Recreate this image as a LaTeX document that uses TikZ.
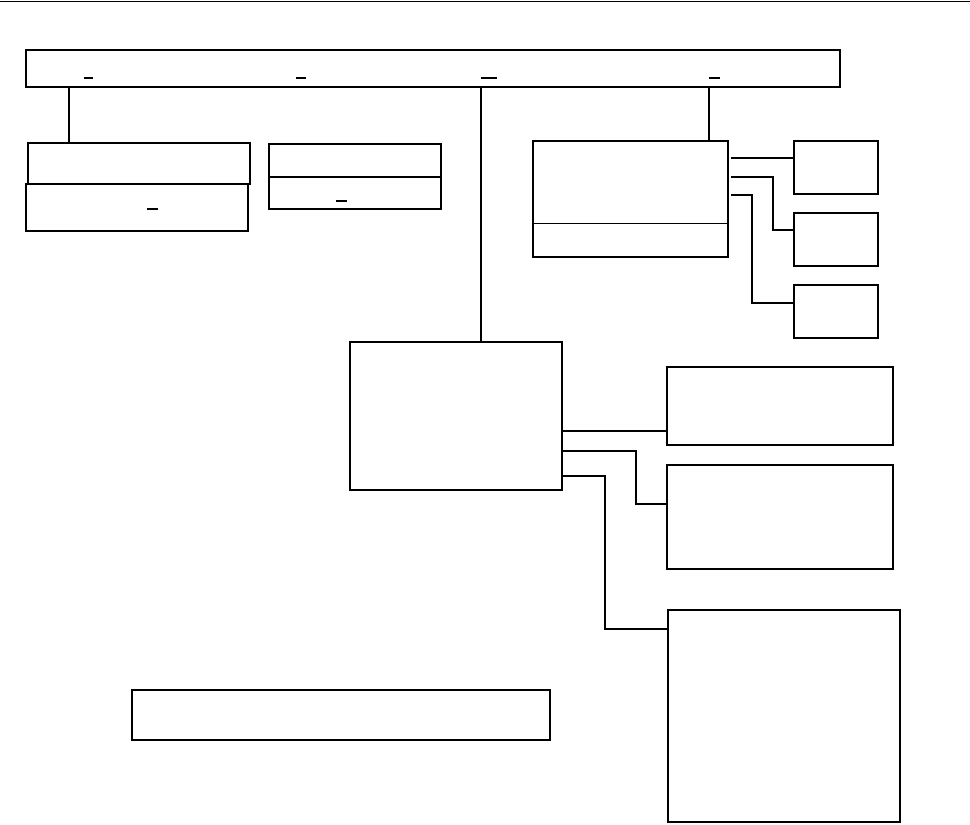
\documentclass[tikz,border=0pt]{standalone}
\begin{document}
\begin{tikzpicture}[x=1pt,y=-1pt,
  box/.style={draw,line width=1.6pt,inner sep=0pt,outer sep=0pt,rectangle},
  thinbox/.style={draw,line width=1.2pt,inner sep=0pt,outer sep=0pt,rectangle},
  wire/.style={line width=1.6pt},
  thinwire/.style={line width=1.1pt},
  dashmark/.style={line width=1.1pt}]
\useasboundingbox (0,0) rectangle (970,825);
\coordinate (tl) at (0,1);
\coordinate (tr) at (970,1);
\draw[line width=0.9pt] (tl) -- (tr);
% top bar
\node[box,minimum width=814pt,minimum height=37pt] (T) at (433,68.5) {};
\draw[dashmark] (84,78) -- (93,78);
\draw[dashmark] (296,78) -- (306,78);
\draw[dashmark] (481,78) -- (497,78);
\draw[dashmark] (709,78) -- (720,78);
% left group
\node[box,minimum width=222pt,minimum height=41pt] (A) at (139,163.5) {};
\node[thinbox,minimum width=222pt,minimum height=47pt] (B) at (137,207.5) {};
\draw[dashmark] (147,209) -- (158,209);
% middle group
\node[box,minimum width=172pt,minimum height=33pt] (C) at (355,160.5) {};
\node[thinbox,minimum width=172pt,minimum height=32pt] (D) at (355,193) {};
\draw[dashmark] (336,201) -- (347,201);
% right group
\node[thinbox,minimum width=195pt,minimum height=116pt] (E) at (630.5,199) {};
\draw[line width=1pt] (E.west |- 0,223) -- (E.east |- 0,223);
\node[box,minimum width=84pt,minimum height=53pt] (F) at (836,167.5) {};
\node[box,minimum width=84pt,minimum height=53pt] (G) at (836,239.5) {};
\node[box,minimum width=84pt,minimum height=53pt] (H) at (836,311.5) {};
% center
\node[thinbox,minimum width=212pt,minimum height=148pt] (I) at (456,416) {};
\node[box,minimum width=226pt,minimum height=78pt] (J) at (780,406) {};
\node[box,minimum width=226pt,minimum height=104pt] (K) at (780,517) {};
\node[box,minimum width=232pt,minimum height=212pt] (L) at (784,716) {};
% bottom
\node[thinbox,minimum width=418pt,minimum height=50pt] (M) at (341,715) {};
% connectors from top bar
\draw[thinwire] (T.south -| 69,0) -- (A.north -| 69,0);
\draw[wire] (T.south -| 481,0) -- (I.north -| 481,0);
\draw[wire] (T.south -| 709,0) -- (E.north -| 709,0);
% right group connectors
\draw[wire] ([xshift=3pt]E.east |- 0,158) -- (F.west |- 0,158);
\draw[wire] ([xshift=3pt]E.east |- 0,177) -- (773,177) -- (773,230) -- (G.west |- 0,230);
\draw[wire] ([xshift=3pt]E.east |- 0,195) -- (752,195) -- (752,303) -- (H.west |- 0,303);
% center connectors
\draw[wire] (I.east |- 0,431) -- (J.west |- 0,431);
\draw[wire] (I.east |- 0,451) -- (636,451) -- (636,504) -- (K.west |- 0,504);
\draw[wire] (I.east |- 0,476) -- (605,476) -- (605,629) -- (L.west |- 0,629);
\end{tikzpicture}
\end{document}
